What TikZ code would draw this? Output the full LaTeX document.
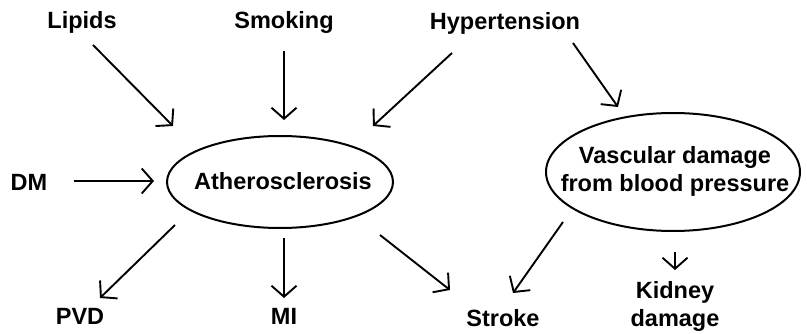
\documentclass[tikz,border=0pt]{standalone}
\usepackage{fontspec}
\setmainfont{Liberation Sans}
\usetikzlibrary{arrows.meta,shapes.geometric}
\begin{document}
\begin{tikzpicture}[x=1pt,y=-1pt,
  lbl/.style={font=\fontsize{23.5}{26}\selectfont\bfseries, inner sep=0pt, align=center},
  arr/.style={line width=1.9pt, -{Straight Barb[length=11pt,width=25pt,line width=1.9pt]}},
  oval/.style={ellipse, draw, line width=2pt, inner sep=0pt}]
\useasboundingbox (0,0) rectangle (807,334);
% text nodes
\node[lbl] (lipids) at (82,22) {Lipids};
\node[lbl] (smoking) at (284,22) {Smoking};
\node[lbl] (hyper) at (505,23) {Hypertension};
\node[lbl] (dm) at (29,182) {DM};
\node[oval, minimum width=226pt, minimum height=92pt] (ath) at (280,182) {};
\node[lbl] (athtext) at (283,181) {Atherosclerosis};
\node[oval, minimum width=254pt, minimum height=118pt] (vasc) at (673,172) {};
\node[lbl] (vasctext) at (675,171) {Vascular damage\\[2pt]from blood pressure};
\node[lbl] (pvd) at (80,316) {PVD};
\node[lbl] (mi) at (284,316) {MI};
\node[lbl] (stroke) at (503,318) {Stroke};
\node[lbl] (kidney) at (675,306) {Kidney\\[2pt]damage};
% arrow end points
\coordinate (l1) at (93,45);   \coordinate (l2) at (173,126);
\coordinate (s1) at (284,51);  \coordinate (s2) at (284,120);
\coordinate (h1) at (452,53);  \coordinate (h2) at (373,126);
\coordinate (h3) at (573,43);  \coordinate (h4) at (618,107);
\coordinate (d1) at (74,181);  \coordinate (d2) at (154,181);
\coordinate (a1) at (175,225); \coordinate (a2) at (100,298);
\coordinate (a3) at (284,238); \coordinate (a4) at (284,298);
\coordinate (a5) at (380,235); \coordinate (a6) at (450,290);
\coordinate (v1) at (563,222); \coordinate (v2) at (513,293);
\coordinate (v3) at (675,252); \coordinate (v4) at (675,270);
% connectors
\draw[arr] (l1) -- (l2);
\draw[arr] (s1) -- (s2);
\draw[arr] (h1) -- (h2);
\draw[arr] (h3) -- (h4);
\draw[arr] (d1) -- (d2);
\draw[arr] (a1) -- (a2);
\draw[arr] (a3) -- (a4);
\draw[arr] (a5) -- (a6);
\draw[arr] (v1) -- (v2);
\draw[arr] (v3) -- (v4);
\end{tikzpicture}
\end{document}
